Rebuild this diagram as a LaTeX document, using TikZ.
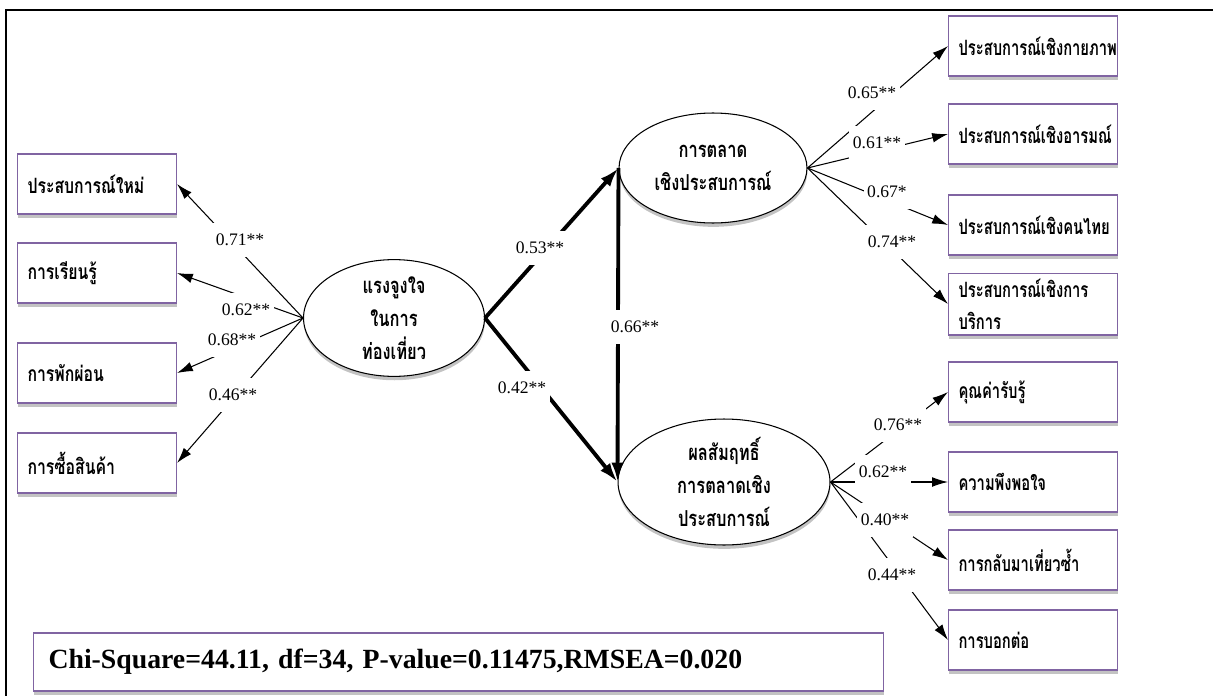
\documentclass[tikz,border=0pt]{standalone}
\usepackage{fontspec}
\setmainfont{Liberation Serif}
\newfontfamily\thaifont[Script=Thai, FakeStretch=0.75]{Loma}
\newfontfamily\thainarrow[Script=Thai, FakeStretch=0.70]{Loma}
\usetikzlibrary{arrows.meta, positioning, shapes.geometric, shadows}
\definecolor{purple1}{RGB}{128,100,162}
\definecolor{shade1}{RGB}{170,170,170}

\begin{document}
\begin{tikzpicture}[
    x=0.02cm, y=-0.02cm,
    softshadow/.style={drop shadow={shadow xshift=0.2pt, shadow yshift=-2.2pt, fill=shade1, opacity=0.7}},
    indbox/.style={draw=purple1, fill=white, line width=0.6pt, softshadow, anchor=west,
        minimum height=1.2cm, inner xsep=0.2cm, align=left},
    leftbox/.style={indbox, minimum width=3.18cm, text width=2.78cm,
        font=\thaifont\bfseries\fontsize{12}{18}\selectfont},
    rightbox/.style={indbox, minimum width=3.38cm, text width=2.98cm,
        font=\thainarrow\bfseries\fontsize{12}{18}\selectfont},
    latent/.style={ellipse, draw=black, fill=white, line width=0.6pt, softshadow, align=center, inner sep=0pt,
        font=\thaifont\bfseries\fontsize{12.5}{18.7}\selectfont},
    loadarrow/.style={-{Latex[length=9pt,width=5.5pt]}, line width=0.6pt},
    patharrow/.style={-{Latex[length=11pt,width=7pt]}, line width=2.2pt},
    coef/.style={fill=white, inner xsep=2pt, inner ysep=6pt, font=\fontsize{10}{12}\selectfont}
]
    \useasboundingbox (0,0) rectangle (1213,696);
    % frame
    \draw[line width=1.2pt] (6,696) -- (6,10) -- (1213,10);

    % latent variables
    \node[latent, minimum width=3.62cm, minimum height=2.16cm] (mot) at (394,318) {แรงจูงใจ\\ในการ\\ท่องเที่ยว};
    \node[latent, minimum width=3.76cm, minimum height=2.2cm] (exp) at (713,168) {การตลาด\\เชิงประสบการณ์};
    \node[latent, minimum width=4.24cm, minimum height=2.4cm] (res) at (724,482) {ผลสัมฤทธิ์\\การตลาดเชิง\\ประสบการณ์};

    % indicators
    \foreach \name/\y/\txt in {L1/184/ประสบการณ์ใหม่, L2/273/การเรียนรู้, L3/373/การพักผ่อน, L4/463/การซื้อสินค้า}
        \node[leftbox] (\name) at (17,\y) {\txt};
    \foreach \name/\y/\txt in {R1/46/ประสบการณ์เชิงกายภาพ, R2/134/ประสบการณ์เชิงอารมณ์, R3/225/ประสบการณ์เชิงคนไทย,
        R4/304/{ประสบการณ์เชิงการ\\บริการ}, R5/392/คุณค่ารับรู้, R6/482/ความพึงพอใจ, R7/560/การกลับมาเที่ยวซ้ำ, R8/640/การบอกต่อ}
        \node[rightbox] (\name) at (948,\y) {\txt};

    % connectors
    \foreach \b in {L1,L2,L3,L4}
        \draw[loadarrow] (mot.west) -- (\b.east);
    \foreach \b in {R1,R2,R3,R4}
        \draw[loadarrow] (exp.east) -- (\b.west);
    \foreach \b in {R5,R6,R7,R8}
        \draw[loadarrow] (res.east) -- (\b.west);
    \draw[patharrow] (mot.east) -- (exp.west);
    \draw[patharrow] (mot.east) -- (res.west);
    \draw[patharrow] (exp.west) -- (res.west);

    % coefficients
    \foreach \x/\y/\v in {240/240/0.71**, 246/310/0.62**, 232/340/0.68**, 233/395/0.46**,
        540/248/0.53**, 522/388/0.42**, 635/327/0.66**,
        872/93/0.65**, 877/143/0.61**, 887/192/0.67*, 892/242/0.74**,
        898/425/0.76**, 883/472/0.62**, 885/520/0.40**, 892/575/0.44**}
        \node[coef] at (\x,\y) {\v};

    % fit indices
    \node[indbox, minimum width=16.78cm, minimum height=1.16cm, text width=16.4cm, inner xsep=0.3cm,
        font=\bfseries\fontsize{15.8}{18}\selectfont] (fit) at (33,662)
        {Chi-Square=44.11, df=34, P-value=0.11475,RMSEA=0.020};
\end{tikzpicture}
\end{document}
